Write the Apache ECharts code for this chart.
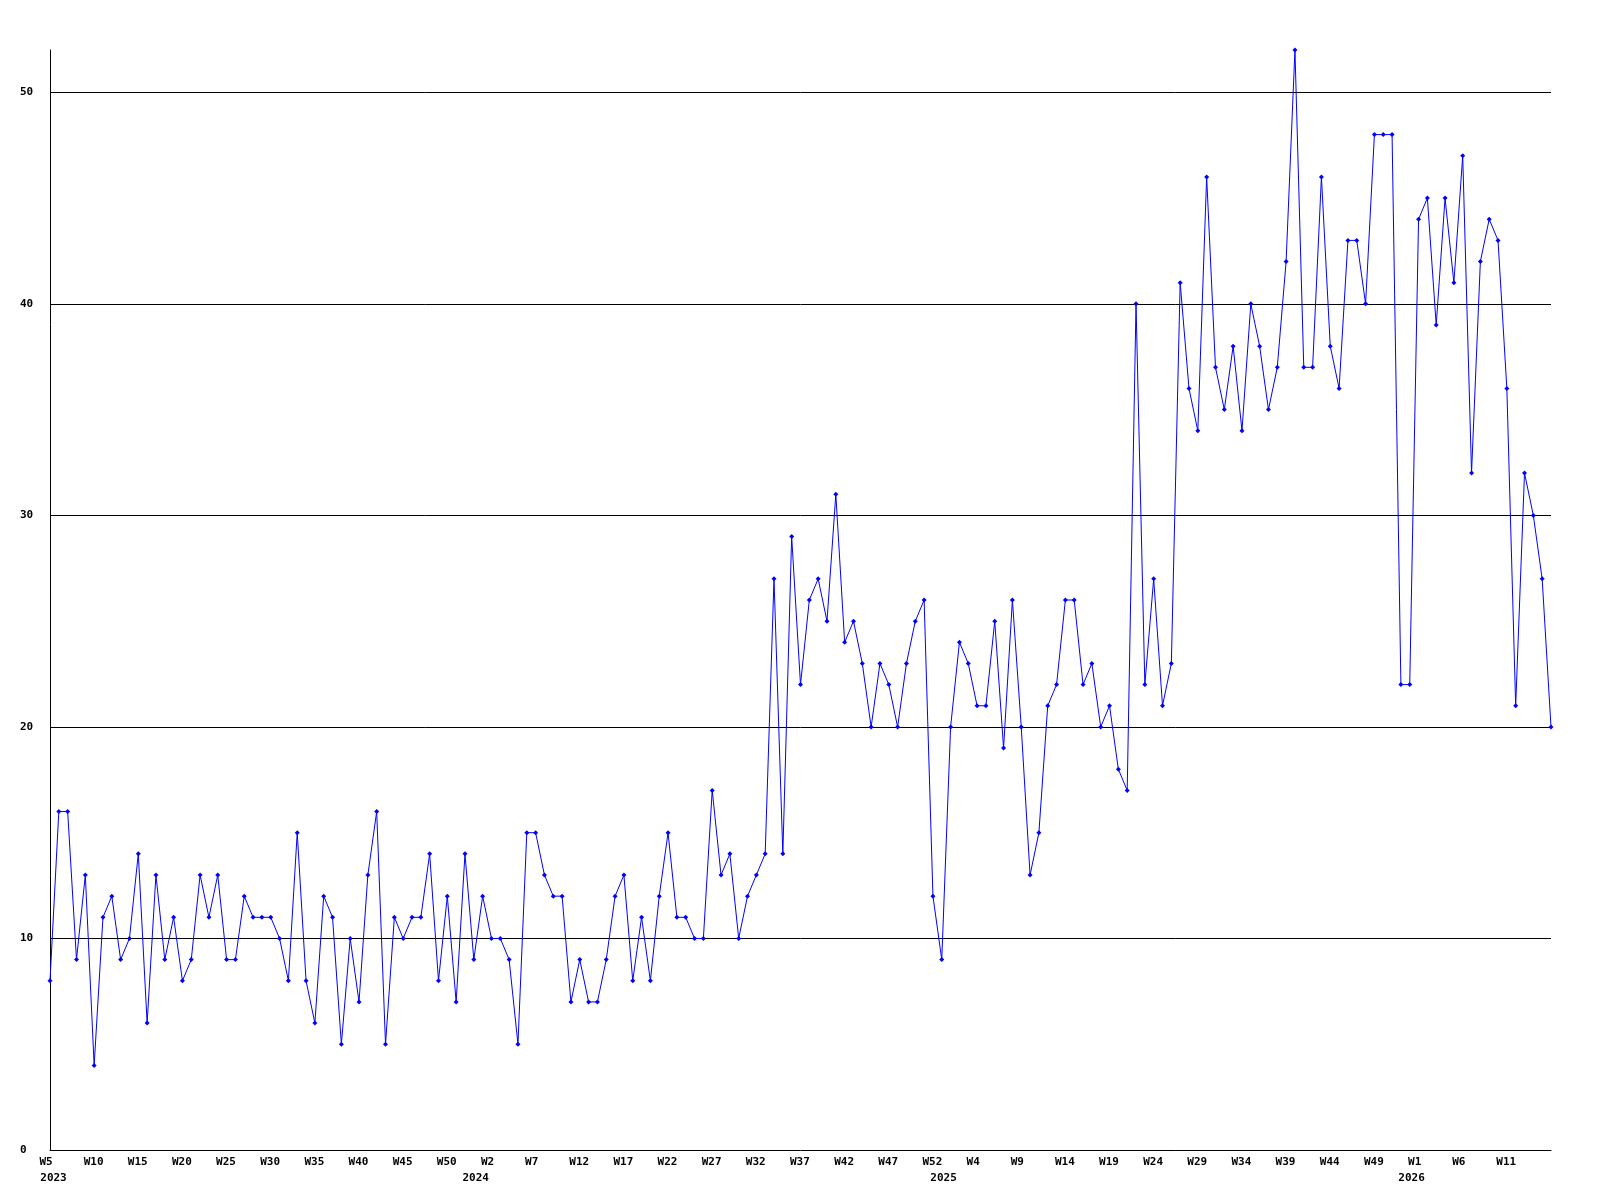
<!DOCTYPE html>
<html>
<head>
<meta charset="utf-8">
<script src="https://cdn.jsdelivr.net/npm/echarts@6/dist/echarts.min.js"></script>
<style>
html,body{margin:0;padding:0;background:#fff;}
#chart{width:1600px;height:1200px;}
</style>
</head>
<body>
<div id="chart"></div>
<script>
// Weeks shown on the x axis, per year
const yearNames = ['2023', '2024', '2025', '2026'];
const firstWeek = [5, 1, 1, 1];
const lastWeek = [53, 53, 53, 16];

// Weekly values
const values = [
  8,16,16,9,13,4,11,12,9,10,
  14,6,13,9,11,8,9,13,11,13,
  9,9,12,11,11,11,10,8,15,8,
  6,12,11,5,10,7,13,16,5,11,
  10,11,11,14,8,12,7,14,9,12,
  10,10,9,5,15,15,13,12,12,7,
  9,7,7,9,12,13,8,11,8,12,
  15,11,11,10,10,17,13,14,10,12,
  13,14,27,14,29,22,26,27,25,31,
  24,25,23,20,23,22,20,23,25,26,
  12,9,20,24,23,21,21,25,19,26,
  20,13,15,21,22,26,26,22,23,20,
  21,18,17,40,22,27,21,23,41,36,
  34,46,37,35,38,34,40,38,35,37,
  42,52,37,37,46,38,36,43,43,40,
  48,48,48,22,22,44,45,39,45,41,
  47,32,42,44,43,36,21,32,30,27,20
];

// y axis
const yMin = 0, yMax = 52, yStep = 10;

const weeks = [];
const yearOf = [];
for (let y = 0; y < yearNames.length; y++) {
  for (let w = firstWeek[y]; w <= lastWeek[y]; w++) {
    weeks.push('W' + w);
    yearOf.push(w === firstWeek[y] ? yearNames[y] : null);
  }
}

const FONT = 'DejaVu Sans Mono';
const chart = echarts.init(document.getElementById('chart'), null, {renderer: 'canvas'});
chart.setOption({
  animation: false,
  backgroundColor: '#ffffff',
  grid: {left: 50, right: 49, top: 50, bottom: 50, containLabel: false},
  xAxis: [
    {
      type: 'category',
      data: weeks,
      boundaryGap: false,
      position: 'bottom',
      axisLine: {show: true, lineStyle: {color: '#000', width: 1}},
      axisTick: {show: false},
      splitLine: {show: false},
      axisLabel: {
        interval: (idx) => idx % 5 === 0 && idx < weeks.length - 1,
        margin: 7,
        color: '#000',
        formatter: v => '{a|' + v + '}',
        rich: {a: {width: 21, align: 'left', fontFamily: FONT, fontWeight: 'bold', fontSize: 11, color: '#000'}}
      }
    },
    {
      type: 'category',
      data: weeks,
      boundaryGap: false,
      position: 'bottom',
      offset: 16,
      axisLine: {show: false},
      axisTick: {show: false},
      splitLine: {show: false},
      axisLabel: {
        interval: (idx) => yearOf[idx] !== null,
        margin: 7,
        color: '#000',
        formatter: (v, idx) => idx === 0 ? '{f|' + yearOf[idx] + '}' : '{y|' + (yearOf[idx] || '') + '}',
        rich: {
          f: {padding: [0, 0, 0, 7], fontFamily: FONT, fontWeight: 'bold', fontSize: 11, color: '#000'},
          y: {padding: [0, 14, 0, 0], fontFamily: FONT, fontWeight: 'bold', fontSize: 11, color: '#000'}
        }
      }
    }
  ],
  yAxis: {
    type: 'value',
    min: yMin,
    max: yMax,
    interval: yStep,
    axisLine: {show: true, lineStyle: {color: '#000', width: 1}},
    axisTick: {show: false},
    axisLabel: {
      align: 'left',
      margin: 30,
      showMaxLabel: false,
      color: '#000',
      fontFamily: FONT,
      fontWeight: 'bold',
      fontSize: 11
    },
    splitLine: {show: true, showMinLine: false, showMaxLine: false, lineStyle: {color: '#000', width: 1}}
  },
  series: [{
    type: 'line',
    data: values,
    xAxisIndex: 0,
    showSymbol: true,
    showAllSymbol: true,
    symbol: 'diamond',
    symbolSize: 5,
    color: '#0000ff',
    itemStyle: {color: '#0000ff'},
    lineStyle: {color: '#0000ff', width: 1},
    z: 3
  }]
});
</script>
</body>
</html>
